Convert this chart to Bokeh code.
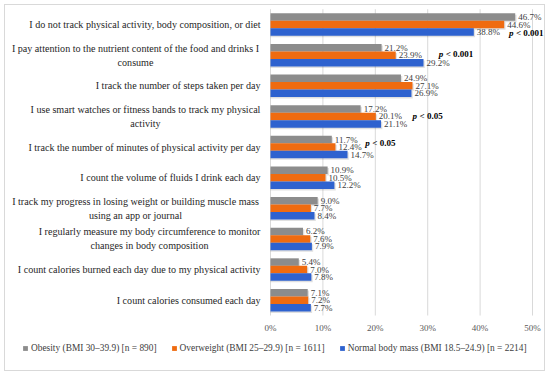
from bokeh.plotting import figure
from bokeh.models import (ColumnDataSource, Range1d, Legend, LegendItem, Label, LabelSet)
from bokeh.embed import file_html
from bokeh.resources import INLINE

categories = [
    "I do not track physical activity, body composition, or diet",
    "I pay attention to the nutrient content of the food and drinks I\nconsume",
    "I track the number of steps taken per day",
    "I use smart watches or fitness bands to track my physical\nactivity",
    "I track the number of minutes of physical activity per day",
    "I count the volume of fluids I drink each day",
    "I track my progress in losing weight or building muscle mass\nusing an app or journal",
    "I regularly measure my body circumference to monitor\nchanges in body composition",
    "I count calories burned each day due to my physical activity",
    "I count calories consumed each day",
]
obesity = [46.7, 21.2, 24.9, 17.2, 11.7, 10.9, 9.0, 6.2, 5.4, 7.1]
overweight = [44.6, 23.9, 27.1, 20.1, 12.4, 10.5, 7.7, 7.6, 7.0, 7.2]
normal = [38.8, 29.2, 26.9, 21.1, 14.7, 12.2, 8.4, 7.9, 7.8, 7.7]
series_names = [
    "Obesity (BMI 30\u201339.9) [n = 890]",
    "Overweight (BMI 25\u201329.9) [n = 1611]",
    "Normal body mass (BMI 18.5\u201324.9) [n = 2214]",
]
x_ticks = [0, 10, 20, 30, 40, 50]
x_tick_labels = ["0%", "10%", "20%", "30%", "40%", "50%"]
# significance notes: (category index, bar row, x position in %, text)
p_notes = [
    (0, 2.1, 45.5, "< 0.001"),
    (1, 0.8, 32.1, "< 0.001"),
    (3, 1.0, 27.1, "< 0.05"),
    (4, 0.4, 18.1, "< 0.05"),
]

colors = ["#8c8c8c", "#ef6b10", "#2e62cf"]
BAR_H = 0.245
SERIF = "Liberation Serif"
N = len(categories)

p = figure(width=541, height=367, output_backend="svg", toolbar_location=None,
           x_range=Range1d(-50.57, 52.67), y_range=Range1d(11.86, -0.121),
           min_border_left=0, min_border_right=0, min_border_top=0,
           min_border_bottom=0)
p.styles = {"border": "1px solid #d9d9d9", "margin": "4px 0 0 4px"}
p.outline_line_color = None
p.background_fill_color = "white"
p.border_fill_color = "white"
p.axis.visible = False
p.grid.visible = False

# vertical gridlines over the category band, from the tick values
p.segment(x0=x_ticks, x1=x_ticks, y0=[0] * len(x_ticks), y1=[N] * len(x_ticks),
          line_color="#d9d9d9", line_width=1)
tick_src = ColumnDataSource(dict(x=x_ticks, y=[N + 0.42] * len(x_ticks), t=x_tick_labels))
p.add_layout(LabelSet(x="x", y="y", text="t", source=tick_src, text_align="center",
                      text_baseline="middle", text_font="Lato", text_font_size="9px",
                      text_color="#595959"))

items = []
for row, (vals, name, col) in enumerate(zip([obesity, overweight, normal], series_names, colors)):
    ys = [i + 0.5 + (row - 1) * BAR_H for i in range(N)]
    src = ColumnDataSource(dict(y=ys, v=vals, t=["%.1f%%" % v for v in vals],
                                ys=[y + 0.05 for y in ys], vs=[v + 0.25 for v in vals]))
    # soft drop shadow under each bar
    p.hbar(y="ys", left=0, right="vs", height=BAR_H, source=src, fill_color="#000000",
           fill_alpha=0.12, line_color=None)
    r = p.hbar(y="y", left=0, right="v", height=BAR_H, source=src,
               fill_color=col, line_color=None)
    items.append(LegendItem(label=name, renderers=[r]))
    p.add_layout(LabelSet(x="v", y="y", text="t", source=src, x_offset=3,
                          text_align="left", text_baseline="middle",
                          text_font=SERIF, text_font_size="9px",
                          text_color="#404040"))

line_widths = {1: 250, 3: 230, 6: 250, 7: 222}
for i, cat in enumerate(categories):
    lines = cat.split("\n")
    yc = i + 0.5
    if len(lines) == 1:
        p.add_layout(Label(x=0, y=yc, x_offset=-10, text=lines[0], text_align="right",
                           text_baseline="middle", text_font=SERIF,
                           text_font_size="10.1px", text_color="#262626"))
    else:
        w = line_widths[i]
        for k, ln in enumerate(lines):
            p.add_layout(Label(x=0, y=yc + (k - 0.5) * 0.457, x_offset=-10 - w / 2, text=ln,
                               text_align="center", text_baseline="middle", text_font=SERIF,
                               text_font_size="10.1px", text_color="#262626"))

for ci, row, xv, txt in p_notes:
    yv = ci + 0.5 + (row - 1) * BAR_H
    p.add_layout(Label(x=xv, y=yv, text="p", text_align="left", text_baseline="middle",
                       text_font=SERIF, text_font_size="9px", text_font_style="bold italic",
                       text_color="#000000"))
    p.add_layout(Label(x=xv, y=yv, x_offset=7, text=txt, text_align="left",
                       text_baseline="middle", text_font=SERIF, text_font_size="9px",
                       text_font_style="bold", text_color="#000000"))

legend = Legend(items=items, orientation="horizontal", location=(17, 18),
                label_text_font=SERIF, label_text_font_size="9.4px",
                label_text_color="#404040", glyph_width=6, glyph_height=6,
                label_height=12, label_standoff=3, spacing=14, padding=0, margin=0,
                border_line_color=None, background_fill_alpha=0)
p.add_layout(legend)

open("out.html", "w").write(file_html(p, INLINE))
